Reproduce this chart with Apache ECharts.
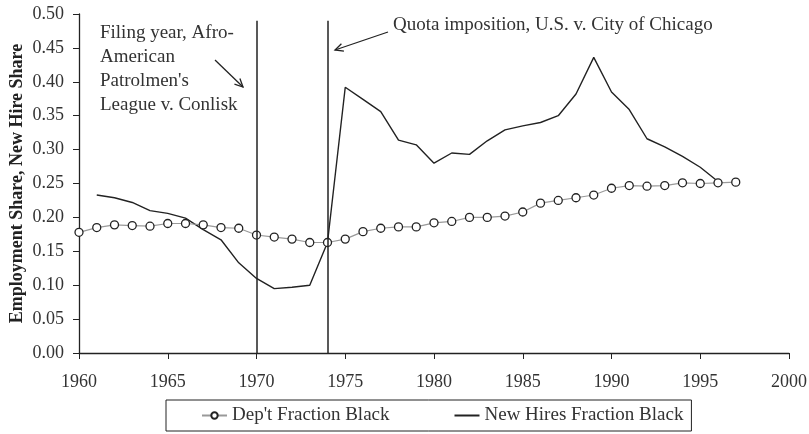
<!DOCTYPE html>
<html>
<head>
<meta charset="utf-8">
<script src="https://cdn.jsdelivr.net/npm/echarts@6/dist/echarts.min.js"></script>
<style>
  html, body { margin: 0; padding: 0; background: #fff; }
  #chart { width: 809px; height: 434px; }
</style>
</head>
<body>
<div id="chart"></div>
<script>
// Dep't fraction black, 1960-1997
const deptYears = [1960, 1961, 1962, 1963, 1964, 1965, 1966, 1967, 1968, 1969,
  1970, 1971, 1972, 1973, 1974, 1975, 1976, 1977, 1978, 1979,
  1980, 1981, 1982, 1983, 1984, 1985, 1986, 1987, 1988, 1989,
  1990, 1991, 1992, 1993, 1994, 1995, 1996, 1997]
const deptShare = [0.178, 0.185, 0.189, 0.188, 0.187, 0.191, 0.191, 0.189, 0.185, 0.184,
  0.174, 0.171, 0.168, 0.163, 0.163, 0.168, 0.179, 0.184, 0.186, 0.186,
  0.192, 0.194, 0.200, 0.200, 0.202, 0.208, 0.221, 0.225, 0.229, 0.233,
  0.243, 0.247, 0.246, 0.247, 0.251, 0.250, 0.251, 0.252]

// New hires fraction black, 1961-1996
const hireYears = [1961, 1962, 1963, 1964, 1965, 1966, 1967, 1968, 1969,
  1970, 1971, 1972, 1973, 1974, 1975, 1976, 1977, 1978, 1979,
  1980, 1981, 1982, 1983, 1984, 1985, 1986, 1987, 1988, 1989,
  1990, 1991, 1992, 1993, 1994, 1995, 1996]
const hireShare = [0.233, 0.229, 0.222, 0.210, 0.206, 0.199, 0.182, 0.167, 0.133,
  0.110, 0.095, 0.097, 0.100, 0.163, 0.392, 0.374, 0.356, 0.314, 0.307,
  0.280, 0.295, 0.293, 0.313, 0.329, 0.335, 0.340, 0.350, 0.382, 0.436,
  0.385, 0.359, 0.316, 0.304, 0.290, 0.274, 0.253]

// event years marked with vertical lines
const eventYears = [1970, 1974]

const xTicks = [1960, 1965, 1970, 1975, 1980, 1985, 1990, 1995, 2000]

const FONT = "'Liberation Serif', 'DejaVu Serif', serif"

const chart = echarts.init(document.getElementById('chart'))

// open arrow made of a shaft and two short wings
const arrow = (x1, y1, x2, y2) => {
  const a = Math.atan2(y2 - y1, x2 - x1)
  const len = 9
  const w = 0.45
  const style = { stroke: '#222', lineWidth: 1.3, fill: null }
  return {
    type: 'group',
    children: [
      { type: 'line', shape: { x1, y1, x2, y2 }, style },
      {
        type: 'polyline',
        shape: {
          points: [
            [x2 - len * Math.cos(a - w), y2 - len * Math.sin(a - w)],
            [x2, y2],
            [x2 - len * Math.cos(a + w), y2 - len * Math.sin(a + w)]
          ]
        },
        style
      }
    ]
  }
}

const option = {
  animation: false,
  textStyle: { fontFamily: FONT },
  grid: { left: 79, right: 20, top: 14, bottom: 81, outerBoundsMode: 'none' },
  legend: {
    left: 166,
    top: 400,
    padding: [6, 8, 6, 35],
    itemGap: 64,
    itemWidth: 25,
    itemHeight: 8,
    borderColor: '#222',
    borderWidth: 1,
    textStyle: { fontFamily: FONT, fontSize: 19, color: '#333' },
    data: [
      "Dep't Fraction Black",
      { name: 'New Hires Fraction Black', itemStyle: { opacity: 0 } }
    ]
  },
  xAxis: {
    type: 'value',
    min: 1960,
    max: 2000,
    interval: 5,
    axisLine: { lineStyle: { color: '#222', width: 1.3 } },
    axisTick: { show: true, length: 6, lineStyle: { color: '#222' } },
    splitLine: { show: false },
    axisLabel: {
      margin: 20,
      fontFamily: FONT,
      fontSize: 18,
      color: '#333',
      formatter: v => xTicks.includes(v) ? String(v) : ''
    }
  },
  yAxis: {
    type: 'value',
    min: 0,
    max: 0.5,
    interval: 0.05,
    name: 'Employment Share, New Hire Share',
    nameLocation: 'middle',
    nameGap: 53,
    nameMoveOverlap: false,
    nameTextStyle: { fontFamily: FONT, fontSize: 18, fontWeight: 'bold', color: '#222' },
    axisLine: { show: true, lineStyle: { color: '#222', width: 1.3 } },
    axisTick: { show: true, length: 6, lineStyle: { color: '#222' } },
    splitLine: { show: false },
    axisLabel: {
      margin: 15,
      fontFamily: FONT,
      fontSize: 18,
      color: '#333',
      formatter: v => v.toFixed(2)
    }
  },
  series: [
    {
      name: "Dep't Fraction Black",
      type: 'line',
      data: deptYears.map((y, i) => [y, deptShare[i]]),
      symbol: 'circle',
      symbolSize: 8,
      showAllSymbol: true,
      lineStyle: { color: '#999', width: 1.2 },
      itemStyle: { color: '#fff', borderColor: '#222', borderWidth: 1.3 },
      z: 3
    },
    {
      name: 'New Hires Fraction Black',
      type: 'line',
      data: hireYears.map((y, i) => [y, hireShare[i]]),
      symbol: 'none',
      lineStyle: { color: '#222', width: 1.4 },
      itemStyle: { color: '#222' },
      z: 2,
      markLine: {
        silent: true,
        symbol: ['none', 'none'],
        label: { show: false },
        lineStyle: { color: '#222', width: 1.5, type: 'solid' },
        data: eventYears.map(y => [{ coord: [y, 0] }, { coord: [y, 0.49] }])
      }
    }
  ],
  graphic: [
    {
      type: 'text',
      left: 100,
      top: 21,
      style: {
        text: "Filing year, Afro-\nAmerican\nPatrolmen's\nLeague v. Conlisk",
        font: '19px ' + FONT,
        lineHeight: 24,
        fill: '#333'
      }
    },
    {
      type: 'text',
      left: 393,
      top: 16,
      style: {
        text: 'Quota imposition, U.S. v. City of Chicago',
        font: '19px ' + FONT,
        fill: '#333'
      }
    },
    arrow(215, 60, 243, 87),
    arrow(388, 32, 335, 50)
  ]
}

chart.setOption(option)

window.addEventListener('resize', () => {
  chart.resize()
})
</script>
</body>
</html>
